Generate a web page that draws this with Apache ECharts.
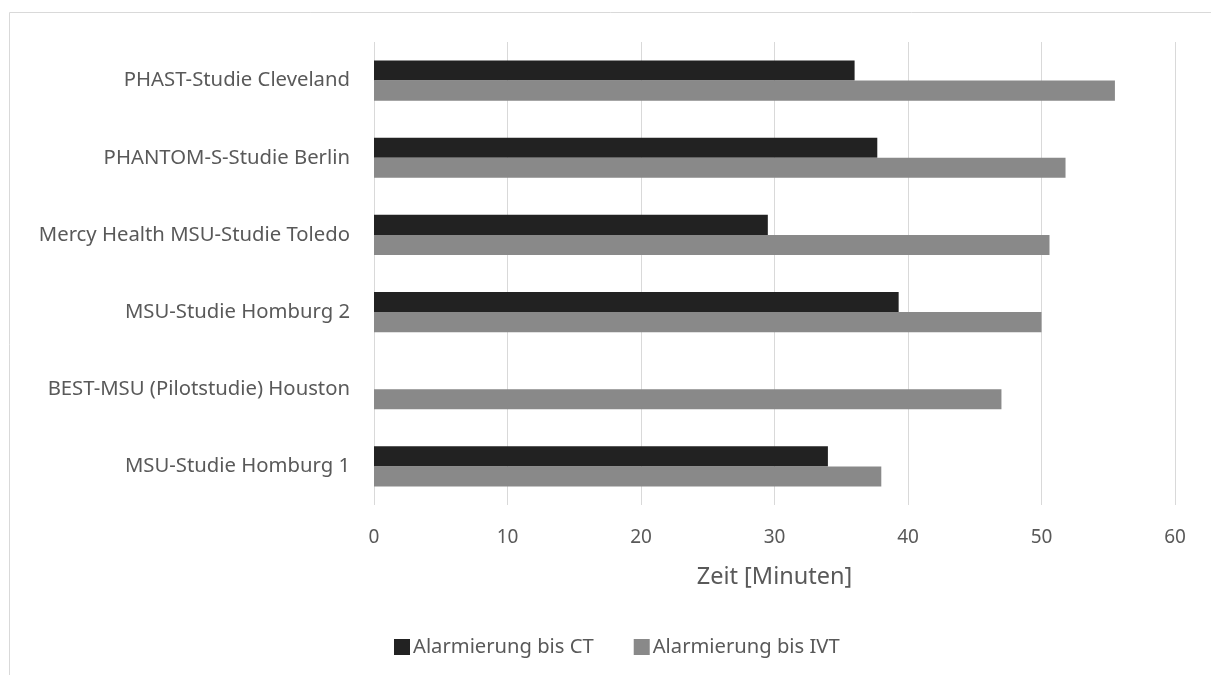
<!DOCTYPE html>
<html><head><meta charset="utf-8">
<script src="https://cdn.jsdelivr.net/npm/echarts@6/dist/echarts.min.js"></script>
<style>html,body{margin:0;padding:0;background:#fff}#c{width:1211px;height:675px}</style>
</head><body><div id="c"></div>
<script>
const categories = ["MSU-Studie Homburg 1","BEST-MSU (Pilotstudie) Houston","MSU-Studie Homburg 2","Mercy Health MSU-Studie Toledo","PHANTOM-S-Studie Berlin","PHAST-Studie Cleveland"];
const seriesNames = ["Alarmierung bis CT","Alarmierung bis IVT"];
const ctValues = [34.0, null, 39.3, 29.5, 37.7, 36.0];
const ivtValues = [38.0, 47.0, 50.0, 50.6, 51.8, 55.5];
const xTicks = {min:0, max:60, interval:10};
const xName = "Zeit [Minuten]";

const font = "Noto Sans";
const chart = echarts.init(document.getElementById('c'));
chart.setOption({
  animation:false,
  textStyle:{fontFamily:font},
  graphic:[{type:'rect',shape:{x:9.5,y:12.5,width:1220,height:700},style:{fill:'none',stroke:'#d9d9d9',lineWidth:1},silent:true}],
  grid:{left:374,right:36,top:42,bottom:170,containLabel:false},
  xAxis:{type:'value',min:xTicks.min,max:xTicks.max,interval:xTicks.interval,
    name:xName,nameLocation:'middle',nameGap:60,
    nameTextStyle:{fontSize:23.5,color:'#595959',fontFamily:font},
    axisLine:{show:false},axisTick:{show:false},
    axisLabel:{fontSize:19,color:'#595959',margin:23,fontFamily:font},
    splitLine:{lineStyle:{color:'#d9d9d9',width:1}}},
  yAxis:{type:'category',data:categories,
    axisLine:{show:false},axisTick:{show:false},
    axisLabel:{fontSize:20.3,color:'#595959',margin:24,fontFamily:font}},
  legend:{bottom:18,left:394,padding:0,itemWidth:16,itemHeight:16,itemGap:40,icon:'rect',
    textStyle:{fontSize:20.2,color:'#595959',fontFamily:font,padding:[0,0,0,-2]},
    data:seriesNames},
  series:[
    {name:seriesNames[0],type:'bar',data:ctValues,itemStyle:{color:'#222222'},barGap:'0%',barCategoryGap:'48%'},
    {name:seriesNames[1],type:'bar',data:ivtValues,itemStyle:{color:'#898989'},barGap:'0%',barCategoryGap:'48%'}
  ]
});
</script></body></html>
